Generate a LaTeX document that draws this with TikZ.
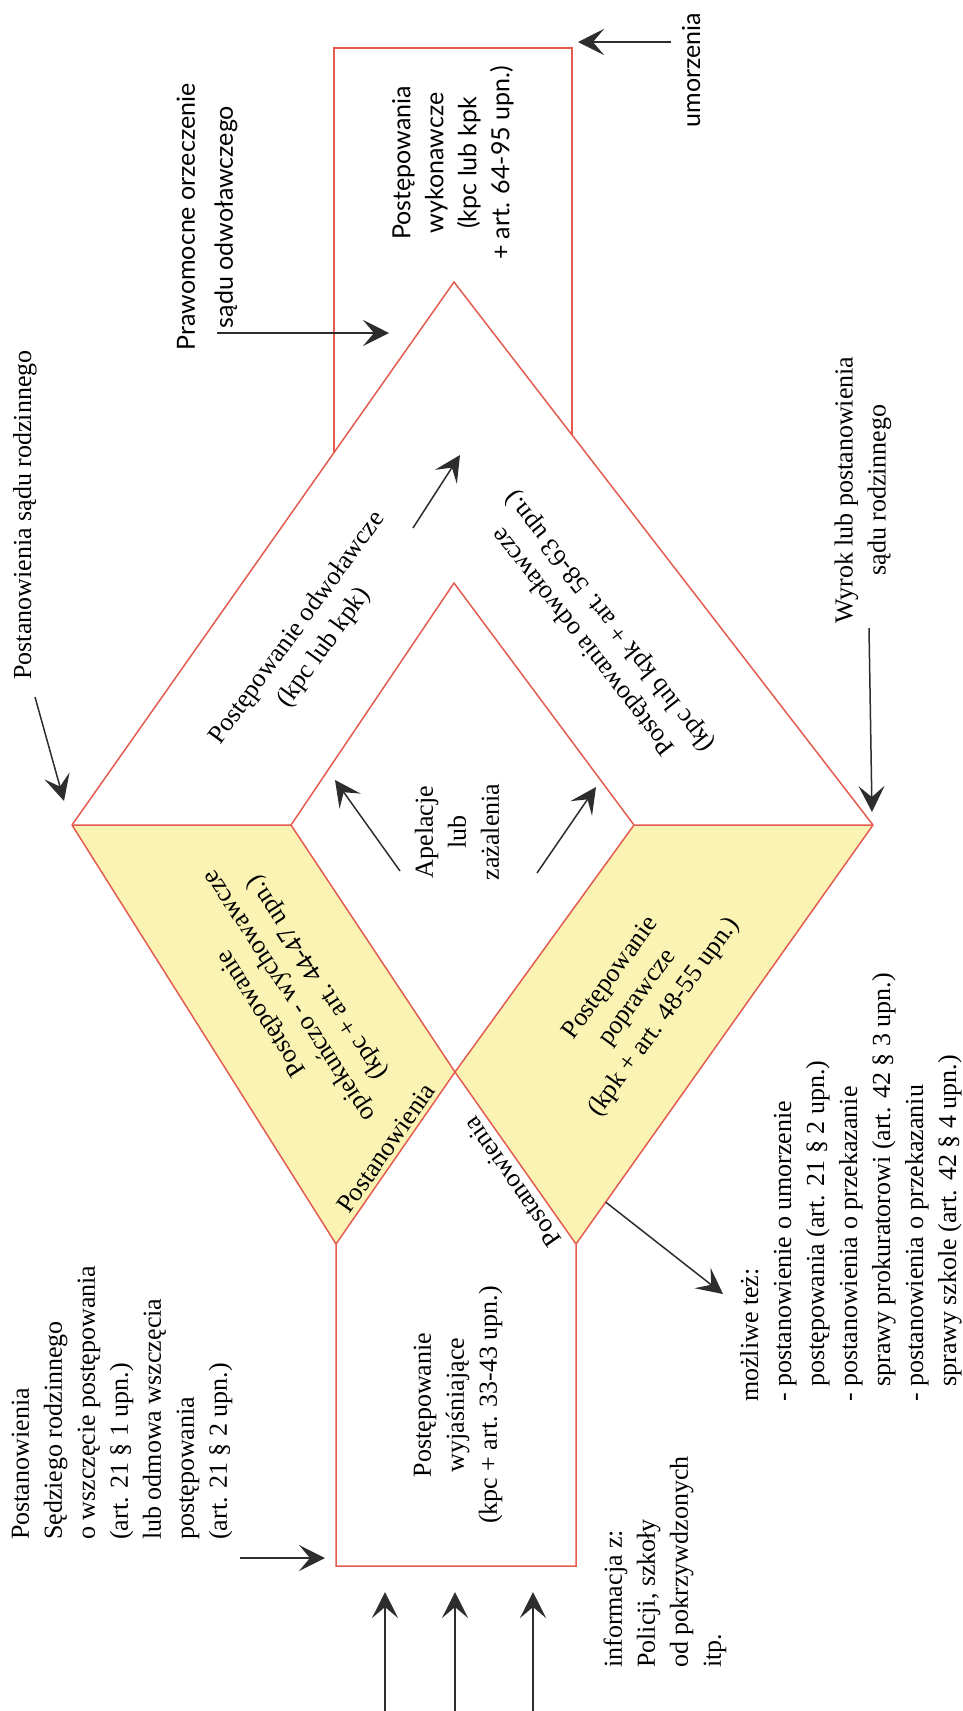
\documentclass[tikz,border=0pt]{standalone}
\usepackage{fontspec}
\setmainfont{Liberation Serif}
\newfontfamily\optfont{Lato}
\usetikzlibrary{arrows.meta,calc}
\definecolor{redline}{RGB}{228,92,80}
\definecolor{yellowfill}{RGB}{250,243,180}
\definecolor{arrowgray}{RGB}{45,45,45}
\begin{document}
\begin{tikzpicture}[x=1pt,y=-1pt,
  redln/.style={draw=redline, line width=1.5pt, line join=miter},
  yel/.style={fill=yellowfill},
  arr/.style={draw=arrowgray, line width=1.5pt, -{Stealth[length=26pt,width=26pt,inset=11pt]}},
  txt/.style={font=\fontsize{26}{33}\selectfont, inner sep=0pt, align=center},
  lato/.style={font=\optfont\fontsize{25}{33}\selectfont, inner sep=0pt, align=center},
  lefttxt/.style={font=\fontsize{26}{33}\selectfont, inner sep=0pt, align=left, rotate=90, anchor=west}]
\useasboundingbox (0,0) rectangle (962,1711);
\fill[white] (0,0) rectangle (962,1711);

% geometry
\coordinate (A) at (454,282);
\coordinate (L) at (72,825);
\coordinate (R) at (873,825);
\coordinate (IL) at (291,825);
\coordinate (IR) at (634,825);
\coordinate (IT) at (454,583);
\coordinate (X) at (455,1072);
\coordinate (BL) at (336,1244);
\coordinate (BR) at (576,1244);
\coordinate (BBL) at (336,1566);
\coordinate (BBR) at (576,1566);
\coordinate (TTL) at (334,48);
\coordinate (TTR) at (572,48);
\coordinate (TL) at (334,453);
\coordinate (TR) at (572,435);

% yellow regions
\fill[yel] (L) -- (IL) -- (X) -- (BL) -- cycle;
\fill[yel] (IR) -- (R) -- (BR) -- (X) -- cycle;

% red outlines
\draw[redln] (TL) -- (TTL) -- (TTR) -- (TR);
\draw[redln] (L) -- (A) -- (R);
\draw[redln] (L) -- (IL) -- (IT) -- (IR) -- (R);
\draw[redln] (IL) -- (X) -- (BR);
\draw[redln] (IR) -- (X) -- (BL);
\draw[redln] (R) -- (BR) -- (BBR) -- (BBL) -- (BL) -- (L);

% texts
\node[txt, rotate=90] (psr) at (25,515) {Postanowienia sądu rodzinnego};
\node[lato, rotate=90, font=\optfont\fontsize{25}{38}\selectfont] (praw) at (207,217) {Prawomocne orzeczenie\\sądu odwoławczego};
\node[lato, rotate=90] (umo) at (691,70) {umorzenia};
\node[lato, rotate=90] (wyk) at (453,163) {Postępowania\\wykonawcze\\(kpc lub kpk\\+ art. 64-95 upn.)};
\node[txt, rotate=90] (wyrok) at (863,490) {Wyrok lub postanowienia\\sądu rodzinnego};
\node[txt, rotate=54] (odw1) at (311,638) {Postępowanie odwoławcze\\(kpc lub kpk)};
\node[txt, rotate=128] (odw2) at (597,631) {Postępowania odwoławcze\\(kpc lub kpk + art. 58-63 upn.)};
\node[txt, rotate=90] (apel) at (457,832) {Apelacje\\lub\\zażalenia};
\node[txt, rotate=123] (opiek) at (290,995) {Postępowanie\\opiekuńczo - wychowawcze\\(kpc + art. 44-47 upn.)};
\node[txt, rotate=55] (post1) at (386,1148) {Postanowienia};
\node[txt, rotate=54] (popr) at (638,998) {Postępowanie\\poprawcze\\(kpk + art. 48-55 upn.)};
\node[txt, rotate=125] (post2) at (512,1182) {Postanowienia};
\node[txt, rotate=90] (wyj) at (458,1405) {Postępowanie\\wyjaśniające\\(kpc + art. 33-43 upn.)};
\node[lefttxt] (sedz) at (122,1540) {Postanowienia\\Sędziego rodzinnego\\o wszczęcie postępowania\\(art. 21 § 1 upn.)\\lub odmowa wszczęcia\\postępowania\\(art. 21 § 2 upn.)};
\node[lefttxt] (info) at (665,1668) {informacja z:\\Policji, szkoły\\od pokrzywdzonych\\itp.};
\node[lefttxt] (mozl) at (851,1402) {możliwe też:\\- postanowienie o umorzenie\\\hspace*{0.58em}postępowania (art. 21 § 2 upn.)\\- postanowienia o przekazanie\\\hspace*{0.58em}sprawy prokuratorowi (art. 42 § 3 upn.)\\- postanowienia o przekazaniu\\\hspace*{0.58em}sprawy szkole (art. 42 § 4 upn.)};

% arrow end points
\coordinate (a1s) at (35,697);   \coordinate (a1e) at (64,801);
\coordinate (a2s) at (217,333);  \coordinate (a2e) at (389,333);
\coordinate (a3s) at (671,42);   \coordinate (a3e) at (578,42);
\coordinate (a4s) at (869,628);  \coordinate (a4e) at (872,812);
\coordinate (a5s) at (413,528);  \coordinate (a5e) at (460,455);
\coordinate (a6s) at (400,871);  \coordinate (a6e) at (335,780);
\coordinate (a7s) at (537,873);  \coordinate (a7e) at (596,787);
\coordinate (a8s) at ($(R)!0.9!(BR)$); \coordinate (a8e) at (723,1294);
\coordinate (a9s) at (240,1558); \coordinate (a9e) at (325,1558);
\coordinate (b1s) at (385,1711); \coordinate (b1e) at (385,1592);
\coordinate (b2s) at (455,1711); \coordinate (b2e) at (455,1592);
\coordinate (b3s) at (533,1711); \coordinate (b3e) at (533,1592);

\draw[arr] (a1s) -- (a1e);
\draw[arr] (a2s) -- (a2e);
\draw[arr] (a3s) -- (a3e);
\draw[arr] (a4s) -- (a4e);
\draw[arr] (a5s) -- (a5e);
\draw[arr] (a6s) -- (a6e);
\draw[arr] (a7s) -- (a7e);
\draw[arr] (a8s) -- (a8e);
\draw[arr] (a9s) -- (a9e);
\draw[arr] (b1s) -- (b1e);
\draw[arr] (b2s) -- (b2e);
\draw[arr] (b3s) -- (b3e);
\end{tikzpicture}
\end{document}
